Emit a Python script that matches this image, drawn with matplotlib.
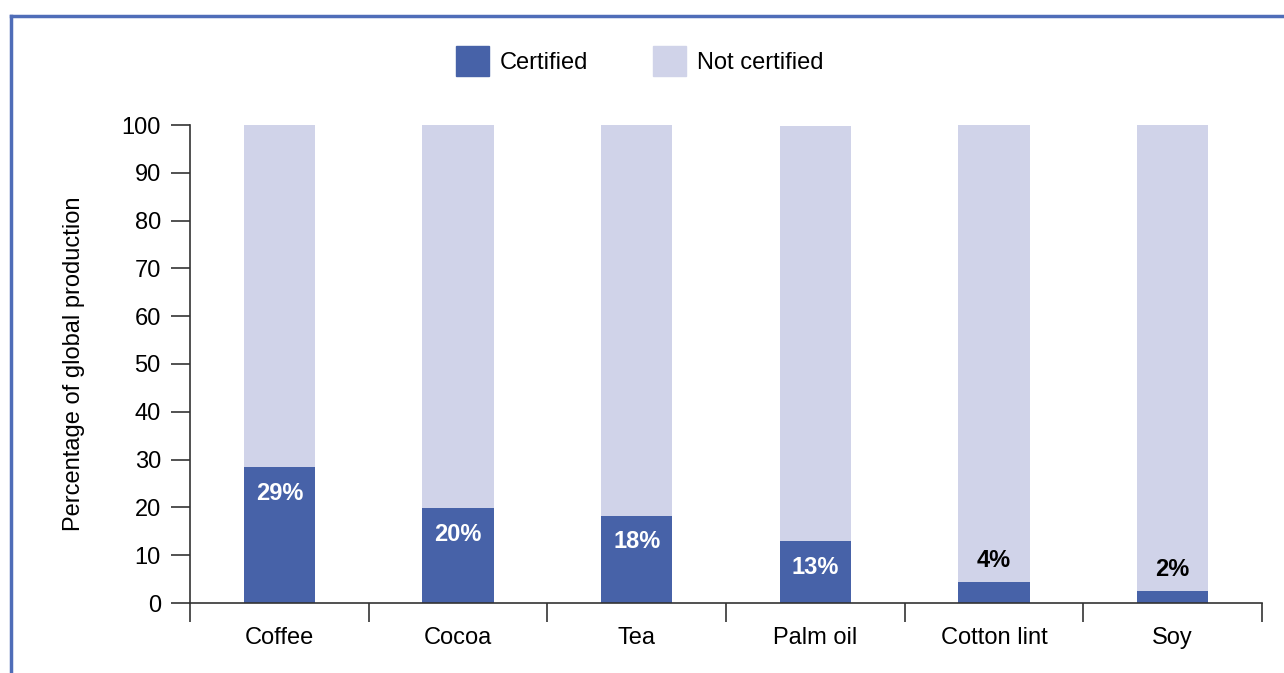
import numpy as np
import matplotlib.pyplot as plt
from matplotlib.lines import Line2D
from matplotlib.patches import Patch

plt.rcParams['font.family'] = ['Liberation Sans', 'DejaVu Sans']

categories = ["Coffee", "Cocoa", "Tea", "Palm oil", "Cotton lint", "Soy"]
certified = [28.5, 19.8, 18.3, 13.0, 4.4, 2.5]
not_certified = [71.5, 80.2, 81.7, 86.7, 95.6, 97.5]
labels = ["29%", "20%", "18%", "13%", "4%", "2%"]

c_cert = "#4762A8"
c_not = "#D0D3E9"
frame = "#4F6DB8"

fig = plt.figure(figsize=(12.84, 6.73), dpi=100)
ax = fig.add_axes([190 / 1284, 1 - 603 / 673, (1262 - 190) / 1284, (603 - 125) / 673])

x = np.arange(len(categories))
ax.bar(x, certified, width=0.4, color=c_cert, label="Certified")
ax.bar(x, not_certified, width=0.4, bottom=certified, color=c_not, label="Not certified")

for xi, v, lab in zip(x, certified, labels):
    if v > 10:
        ax.text(xi, v - 5.5, lab, ha="center", va="center", color="white",
                fontsize=17, fontweight="bold")
    else:
        ax.text(xi, v + 4.5, lab, ha="center", va="center", color="black",
                fontsize=17, fontweight="bold")

ax.set_xlim(-0.5, len(categories) - 0.5)
ax.set_ylim(0, 100)
ax.set_yticks(np.arange(0, 101, 10))
ax.set_xticks(x)
ax.set_xticklabels(categories)
ax.set_xticks(np.arange(-0.5, len(categories), 1), minor=True)
ax.tick_params(axis="x", which="major", length=0, pad=17, labelsize=17)
ax.tick_params(axis="x", which="minor", length=14, width=1.2, color="#333333")
ax.tick_params(axis="y", length=14, width=1.2, color="#333333", labelsize=17, pad=7)
for s in ["top", "right"]:
    ax.spines[s].set_visible(False)
for s in ["left", "bottom"]:
    ax.spines[s].set_color("#333333")
    ax.spines[s].set_linewidth(1.2)
ax.set_ylabel("Percentage of global production", fontsize=17, labelpad=26)

handles = [Patch(color=c_cert), Patch(color=c_not)]
fig.legend(handles, ["Certified", "Not certified"], loc="center",
           bbox_to_anchor=(640 / 1284, 1 - 61 / 673), ncol=2, frameon=False,
           fontsize=17, handlelength=1.4, handleheight=1.6, handletextpad=0.45,
           columnspacing=2.75)

# blue frame (left and top edges)
fig.add_artist(Line2D([11 / 1284, 11 / 1284], [0, 1 - 16 / 673],
                      transform=fig.transFigure, color=frame, lw=2.5))
fig.add_artist(Line2D([11 / 1284, 1], [1 - 16 / 673, 1 - 16 / 673],
                      transform=fig.transFigure, color=frame, lw=2.5))

fig.savefig("out.png", dpi=100)
